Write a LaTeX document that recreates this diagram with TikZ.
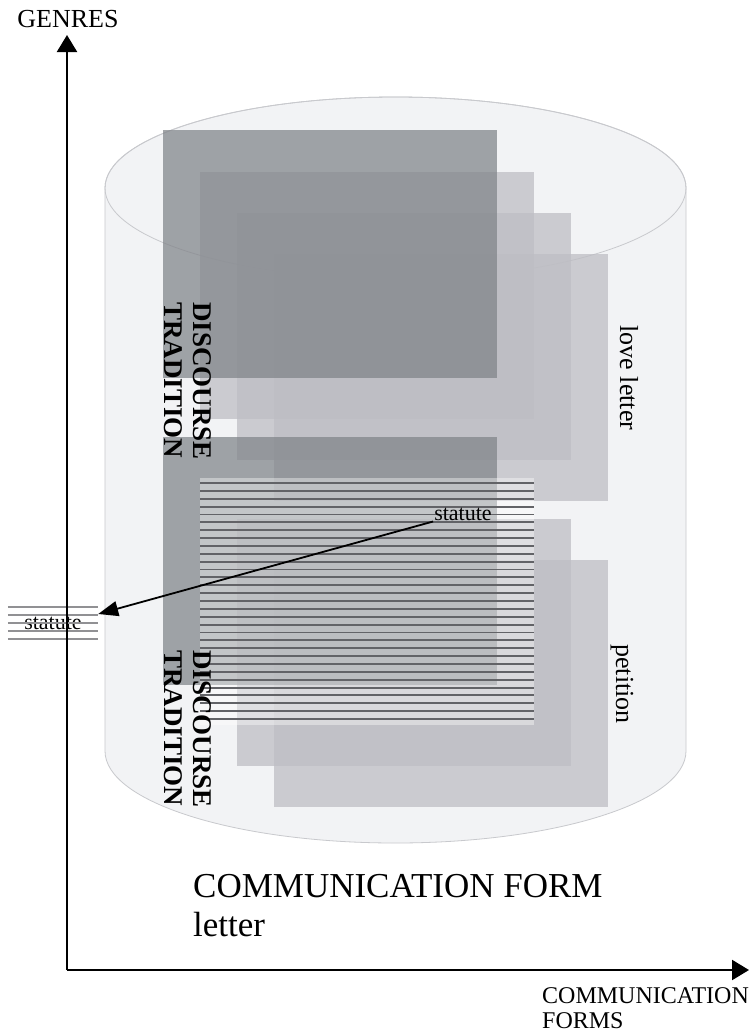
\documentclass[tikz,border=0pt]{standalone}
\usepackage{fontspec}
\setmainfont{Liberation Serif}
\usetikzlibrary{arrows.meta,calc}

\definecolor{cylfill}{RGB}{242,243,245}
\definecolor{cylrim}{RGB}{200,201,205}
\definecolor{sheetdark}{RGB}{128,132,137}
\definecolor{sheetlight}{RGB}{190,190,196}
\definecolor{rulegray}{RGB}{98,99,103}
\definecolor{rulelight}{RGB}{145,145,148}

\begin{document}
\begin{tikzpicture}[x=1pt,y=-1pt,
  darksheet/.style={fill=sheetdark,fill opacity=0.73},
  lightsheet/.style={fill=sheetlight,fill opacity=0.75},
  axis/.style={line width=2.2pt,-{Triangle[length=17pt,width=20pt]}},
  pointer/.style={line width=1.8pt,-{Triangle[length=20pt,width=15pt]}},
  tradition/.style={font=\fontsize{27}{29}\selectfont\bfseries,rotate=-90,
    align=left,inner sep=0pt,anchor=north west},
  vlabel/.style={font=\fontsize{26}{30}\selectfont,rotate=-90,inner sep=0pt},
  small/.style={font=\fontsize{22}{26}\selectfont,inner sep=1pt},
  title/.style={font=\fontsize{35}{39}\selectfont,anchor=base west,inner sep=0pt},
  axlabel/.style={font=\fontsize{24}{25}\selectfont,inner sep=0pt},
]
\useasboundingbox (0,0) rectangle (753,1034);
\fill[white] (0,0) rectangle (753,1034);

% the cylinder (communication form)
\filldraw[fill=cylfill,draw=cylrim,line width=0.8pt]
  (105,188) -- (105,751)
  arc[start angle=180,end angle=0,x radius=290.5,y radius=92]
  -- (686,188)
  arc[start angle=0,end angle=-180,x radius=290.5,y radius=91] -- cycle;
\draw[cylrim,line width=0.8pt] (395.5,188) ellipse[x radius=290.5,y radius=91];

% upper stack of sheets
\fill[lightsheet] (200,172) rectangle (534,419);
\fill[lightsheet] (237,213) rectangle (571,460);
\fill[lightsheet] (274,254) rectangle (608,501);
\fill[darksheet]  (163,130) rectangle (497,378);

% lower stack of sheets
\fill[lightsheet] (237,519) rectangle (571,766);
\fill[lightsheet] (274,560) rectangle (608,807);
\fill[darksheet]  (163,437) rectangle (497,685);

% ruled sheet
\fill[white,fill opacity=0.39] (200,478) rectangle (534,725);
\foreach \k in {0,...,30}
  \draw[rulegray,line width=1.9pt] (200,{483+7.867*\k}) -- (534,{483+7.867*\k});

% labels on the sheets
\node[tradition] (dt1) at (212,302) {DISCOURSE\\TRADITION};
\node[tradition] (dt2) at (212,650) {DISCOURSE\\TRADITION};
\node[vlabel] (love) at (629,378) {love letter};
\node[vlabel] (pet) at (622,684) {petition};

% statute on the genre axis
\node[small,minimum width=90pt,minimum height=32pt,inner sep=0pt] (stbox) at (53,623) {statute};
\foreach \f in {0,0.25,0.5,0.75,1}
  \draw[rulelight,line width=1.5pt]
    ($(stbox.north west)!\f!(stbox.south west)$) -- ($(stbox.north east)!\f!(stbox.south east)$);

% axes
\coordinate (origin) at (67,970);
\coordinate (ytip) at (67,35);
\coordinate (xtip) at (749,970);
\draw[axis] (origin) -- (ytip);
\draw[axis] (origin) -- (xtip);

\node[axlabel,font=\fontsize{26}{30}\selectfont,anchor=base] (genres) at (68,27) {GENRES};
\node[axlabel,anchor=base west] (cf1) at (542,1003) {COMMUNICATION};
\node[axlabel,anchor=base west] (cf2) at (542,1028) {FORMS};

% statute pointer
\node[small] (st) at (463,514) {statute};
\draw[pointer] (st.south west) -- ($(stbox.east)+(0,-9)$);

% caption
\node[title] (form) at (193,897) {COMMUNICATION FORM};
\node[title] (letter) at (193,936) {letter};
\end{tikzpicture}
\end{document}
